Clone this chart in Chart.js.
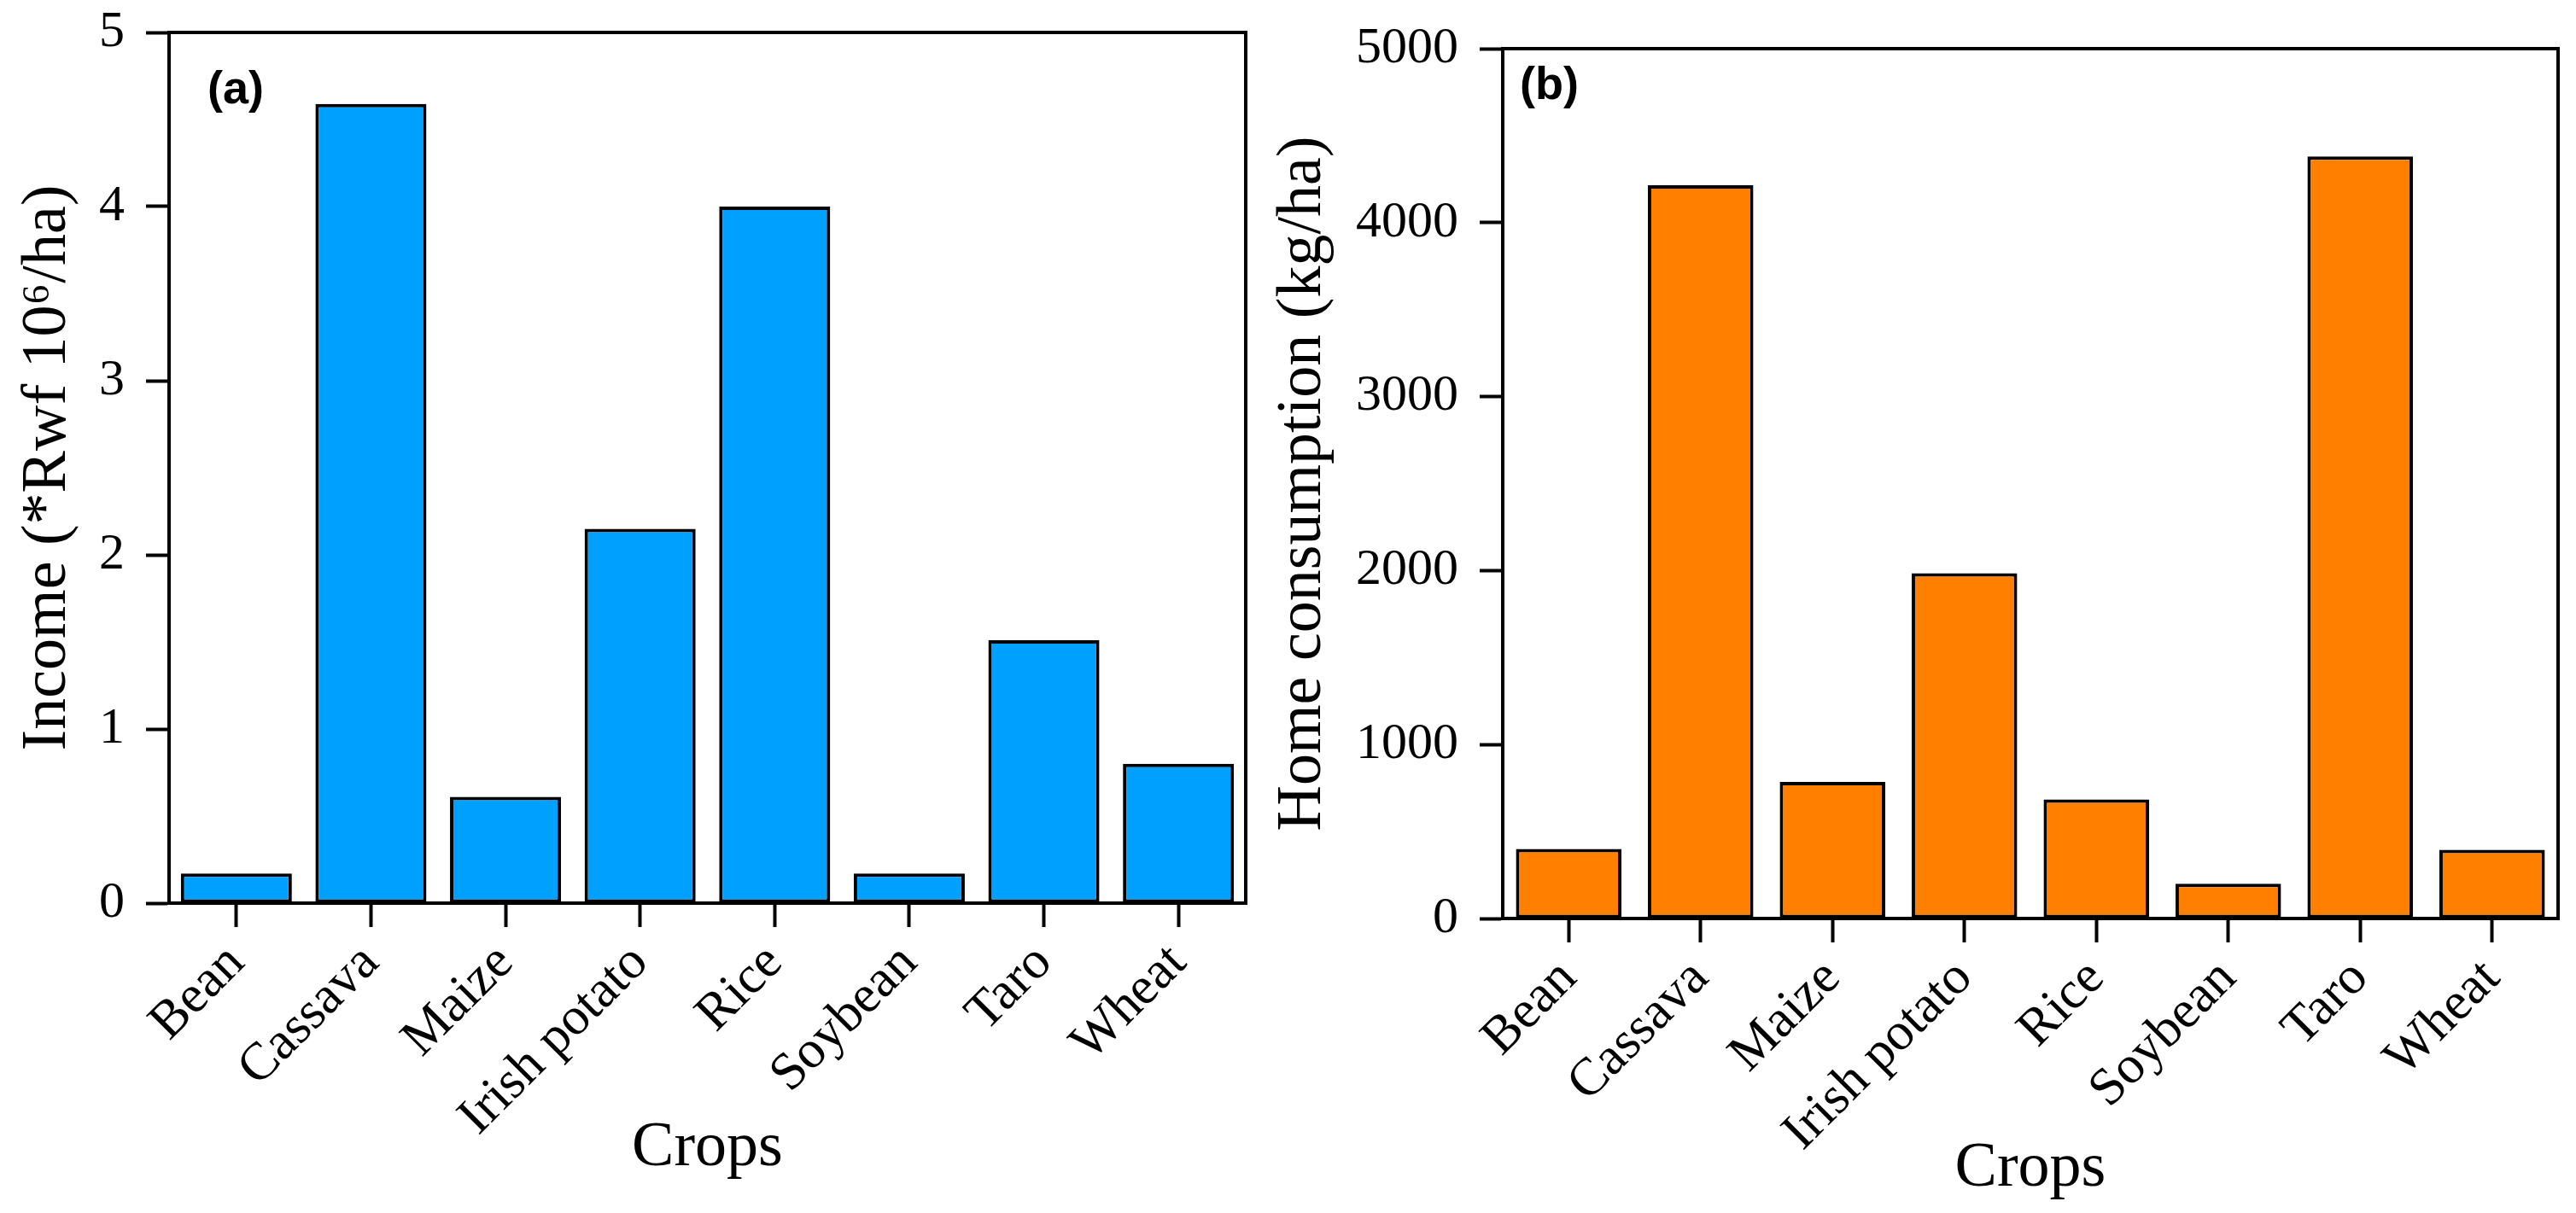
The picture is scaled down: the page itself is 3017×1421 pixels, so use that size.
<!DOCTYPE html>
<html>
<head>
<meta charset="utf-8">
<title>Income and home consumption by crop</title>
<script src="https://cdn.jsdelivr.net/npm/chart.js@4.4.1/dist/chart.umd.min.js"></script>
<style>
body{margin:0;background:#fff;}
#wrap{position:relative;width:3017px;height:1421px;background:#fff;}
canvas{position:absolute;top:0;}
</style>
</head>
<body>
<div id="wrap">
<canvas id="chartA" width="1480" height="1421" style="left:0px"></canvas>
<canvas id="chartB" width="1547" height="1421" style="left:1470px"></canvas>
</div>
<script>
//data
const crops=['Bean','Cassava','Maize','Irish potato','Rice','Soybean','Taro','Wheat'];
const income=[0.17,4.59,0.61,2.15,4.0,0.17,1.51,0.8];
const homeConsumption=[400,4215,785,1985,685,200,4380,395];
const incomeTicks=[0,1,2,3,4,5];
const homeTicks=[0,1000,2000,3000,4000,5000];

const serif='"Liberation Serif", "Times New Roman", serif';

//box around the plot + panel letter
const frame={
  id:'frame',
  afterDatasetsDraw(chart,args,opts){
    const a=chart.chartArea;
    const ctx=chart.ctx;
    ctx.save();
    ctx.strokeStyle='#000';
    ctx.lineWidth=4;
    ctx.strokeRect(a.left,a.top,a.right-a.left,a.bottom-a.top);
    ctx.fillStyle='#000';
    ctx.font='bold 54px "Liberation Sans", Arial, sans-serif';
    ctx.textBaseline='alphabetic';
    ctx.fillText(opts.label,a.left+opts.dx,a.top+opts.dy);
    ctx.restore();
  }
};

function barChart(canvasId,values,color,tickList,yTitle,p){
  const canvas=document.getElementById(canvasId);
  return new Chart(canvas,{
    type:'bar',
    data:{
      labels:crops,
      datasets:[{
        data:values,
        backgroundColor:color,
        borderColor:'#000',
        borderWidth:4,
        borderSkipped:false,
        categoryPercentage:1,
        barPercentage:p.barPct
      }]
    },
    options:{
      responsive:false,
      devicePixelRatio:1,
      animation:false,
      layout:{padding:{left:0,top:p.top,right:p.right,bottom:0}},
      plugins:{
        legend:{display:false},
        tooltip:{enabled:false},
        frame:{label:p.label,dx:p.labelDx,dy:p.labelDy}
      },
      scales:{
        x:{
          offset:true,
          afterFit(scale){
            scale.height=p.xHeight;
            scale.paddingLeft=0;
            scale.paddingRight=0;
          },
          grid:{display:true,offset:false,drawOnChartArea:false,drawTicks:true,tickLength:28,tickWidth:4,tickColor:'#000',color:'#000'},
          border:{display:true,color:'#000',width:4},
          ticks:{color:'#000',font:{family:serif,size:62},maxRotation:45,minRotation:45,padding:6,autoSkip:false},
          title:{display:true,text:'Crops',color:'#000',font:{family:serif,size:74},padding:{top:0,bottom:p.xTitlePad}}
        },
        y:{
          min:tickList[0],
          max:tickList[tickList.length-1],
          afterFit(scale){
            scale.width=p.yWidth;
            scale.paddingTop=0;
            scale.paddingBottom=0;
          },
          afterBuildTicks(scale){scale.ticks=tickList.map(v=>({value:v}));},
          grid:{display:true,drawOnChartArea:false,drawTicks:true,tickLength:27,tickWidth:4,tickColor:'#000',color:'#000'},
          border:{display:true,color:'#000',width:4},
          ticks:{color:'#000',font:{family:serif,size:60},padding:25,callback:v=>String(v)},
          title:{display:true,text:yTitle,color:'#000',font:{family:serif,size:74},padding:{top:p.yTitlePad,bottom:0}}
        }
      }
    },
    plugins:[frame]
  });
}

barChart('chartA',income,'#00a0ff',incomeTicks,'Income (*Rwf 10\u2076/ha)',{
  barPct:0.825,top:38,right:21,xHeight:363,yWidth:198,
  xTitlePad:31,yTitlePad:12,
  label:'(a)',labelDx:45,labelDy:83
});

barChart('chartB',homeConsumption,'#ff8000',homeTicks,'Home consumption (kg/ha)',{
  barPct:0.80,top:57,right:21,xHeight:345,yWidth:290,
  xTitlePad:7,yTitlePad:12,
  label:'(b)',labelDx:20,labelDy:59
});
</script>
</body>
</html>
